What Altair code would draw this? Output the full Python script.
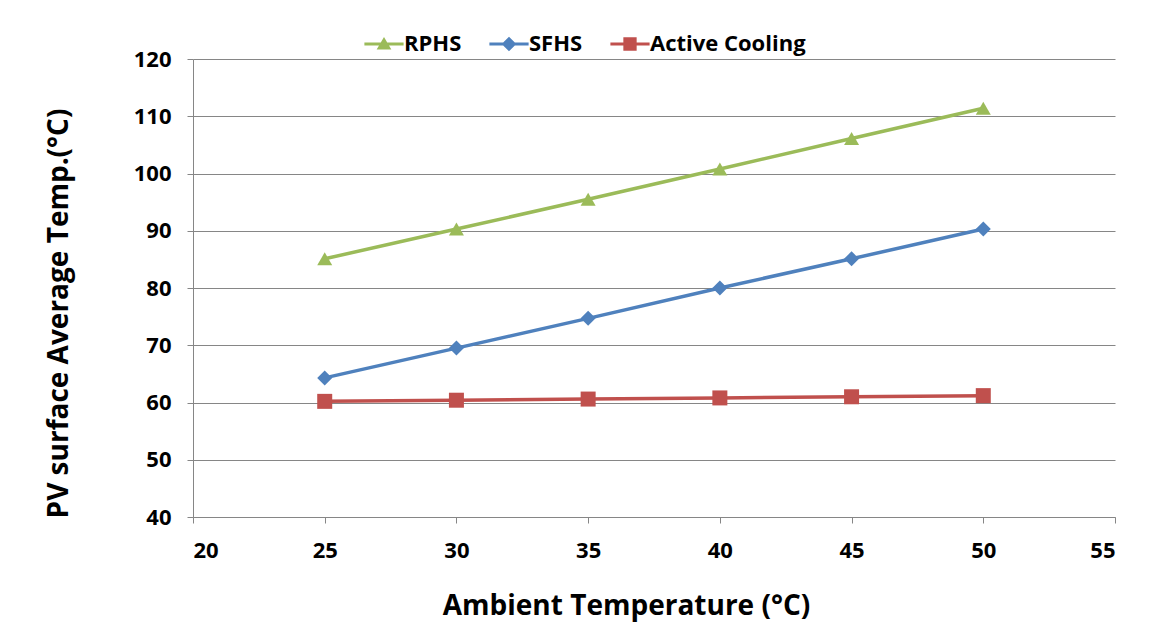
import altair as alt
import pandas as pd

temps = [25, 30, 35, 40, 45, 50]
series_names = ["RPHS", "SFHS", "Active Cooling"]
rphs = [85.1, 90.3, 95.5, 100.8, 106.1, 111.4]
sfhs = [64.3, 69.5, 74.7, 80.0, 85.1, 90.3]
active = [60.2, 60.4, 60.6, 60.8, 61.0, 61.2]
x_ticks = [20, 25, 30, 35, 40, 45, 50, 55]
y_ticks = [40, 50, 60, 70, 80, 90, 100, 110, 120]

colors = ["#9BBB59", "#4F81BD", "#C0504D"]
shapes = ["triangle-up", "diamond", "square"]
legend_shapes = [
    "M-2.8,-0.22H2.8V0.22H-2.8Z M0,-1L1.05,0.8H-1.05Z",
    "M-2.8,-0.22H2.8V0.22H-2.8Z M0,-1.05L1.05,0L0,1.05L-1.05,0Z",
    "M-2.8,-0.22H2.8V0.22H-2.8Z M-0.95,-0.95H0.95V0.95H-0.95Z",
]

rows = []
for name, vals in zip(series_names, [rphs, sfhs, active]):
    for t, v in zip(temps, vals):
        rows.append({"temp": t, "value": v, "series": name})
df = pd.DataFrame(rows)

FONT = "Open Sans"
GRAY = "#868686"

xenc = alt.X(
    "temp:Q",
    scale=alt.Scale(domain=[20, 55], nice=False, zero=False),
    axis=alt.Axis(
        values=x_ticks, grid=False, domainColor=GRAY, tickColor=GRAY, tickSize=6,
        labelFont=FONT, labelFontSize=22, labelFontWeight="bold", labelColor="black",
        labelPadding=17, title="Ambient Temperature (°C)", titleFont=FONT,
        titleFontSize=28, titleFontWeight="bold", titleColor="black",
        titleX=433, titleY=75, titleBaseline="top", titleAlign="center",
    ),
)
yenc = alt.Y(
    "value:Q",
    scale=alt.Scale(domain=[40, 120], nice=False, zero=False),
    axis=alt.Axis(
        values=y_ticks, grid=True, gridColor=GRAY, domainColor=GRAY, tickColor=GRAY,
        tickSize=6, labelFont=FONT, labelFontSize=22, labelFontWeight="bold",
        labelColor="black", labelPadding=16, title="PV surface Average Temp.(°C)",
        titleFont=FONT, titleFontSize=28, titleFontWeight="bold", titleColor="black",
        titlePadding=60, titleY=254,
    ),
)
color = alt.Color("series:N", scale=alt.Scale(domain=series_names, range=colors), legend=None)

base = alt.Chart(df)
lines = base.mark_line(strokeWidth=3.5).encode(x=xenc, y=yenc, color=color)
points = base.mark_point(filled=True, opacity=1, size=225).encode(
    x=xenc, y=yenc, color=color,
    shape=alt.Shape("series:N", scale=alt.Scale(domain=series_names, range=shapes), legend=None),
)

leg = alt.Legend(
    orient="none", legendX=180, legendY=-26, direction="horizontal", title=None,
    labelFont=FONT, labelFontSize=22, labelFontWeight="bold", labelColor="black",
    symbolSize=196, labelOffset=9, columnPadding=27, symbolOpacity=1, symbolStrokeWidth=0,
)
legend_layer = base.transform_calculate(label="datum.series").mark_point(
    filled=True, opacity=0, size=196
).encode(
    x=xenc, y=yenc,
    color=alt.Color("label:N", scale=alt.Scale(domain=series_names, range=colors), legend=leg),
    shape=alt.Shape("label:N", scale=alt.Scale(domain=series_names, range=legend_shapes), legend=leg),
)

chart = (
    alt.layer(lines, points, legend_layer)
    .resolve_scale(color="independent", shape="independent")
    .properties(
        width=922, height=458, autosize="none",
        padding={"left": 185, "top": 51, "right": 28, "bottom": 118},
        background="white",
    )
    .configure_view(stroke=None)
)

chart.save("out.html", embed_options={"renderer": "svg", "actions": False})
